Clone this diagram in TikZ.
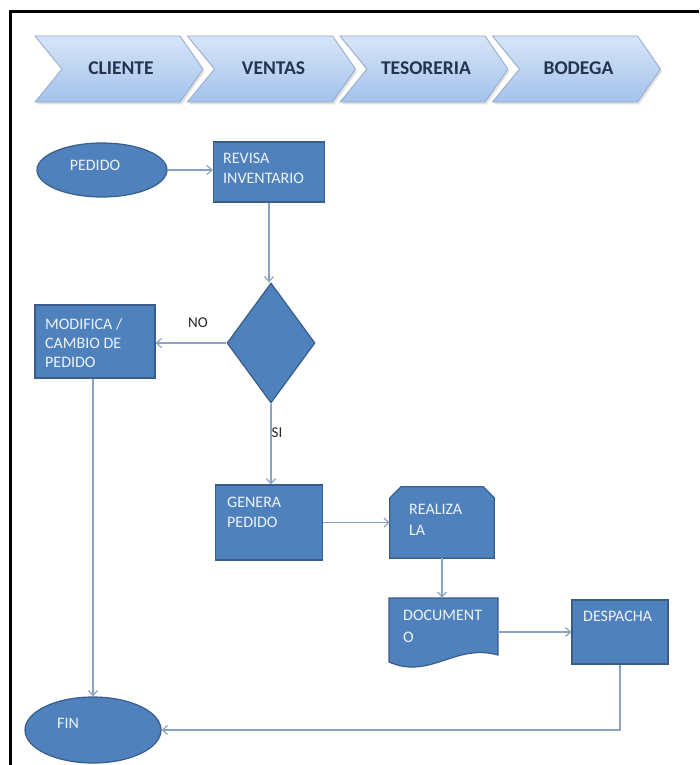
\documentclass[tikz,border=0pt]{standalone}
\usepackage{fontspec}
\setmainfont{Carlito}
\usetikzlibrary{arrows.meta,shapes.geometric,calc}

\definecolor{boxfill}{HTML}{4F81BD}
\definecolor{boxline}{HTML}{385D8A}
\definecolor{boxtext}{HTML}{EEF3FA}
\definecolor{linkcol}{HTML}{8DA3C1}
\definecolor{chevtop}{HTML}{D7E5F8}
\definecolor{chevbot}{HTML}{A3C2EC}
\definecolor{chevline}{HTML}{92A9C9}
\definecolor{chevtext}{HTML}{24344F}

\begin{document}
\begin{tikzpicture}[x=1pt,y=-1pt,
  shapebox/.style={draw=boxline,fill=boxfill,line width=1.2pt,inner sep=0pt},
  ghost/.style={inner sep=0pt},
  boxtxt/.style={text=boxtext,font=\fontsize{16}{20}\selectfont,inner sep=0pt,align=left,anchor=north west},
  onetxt/.style={text=boxtext,font=\fontsize{16}{20}\selectfont,inner sep=0pt},
  link/.style={draw=linkcol,line width=1.2pt,-{Straight Barb[length=5pt,width=9pt]}},
  chev/.style={draw=chevline,line width=0.8pt,top color=chevtop,bottom color=chevbot},
  chevshadow/.style={fill=black!35,opacity=0.35},
  chevtxt/.style={text=chevtext,font=\fontsize{19.5}{22}\selectfont\bfseries,inner sep=0pt},
  answer/.style={text=black!85,font=\fontsize{15}{18}\selectfont,inner sep=0pt}]

\useasboundingbox (0,0) rectangle (699,765);
\fill[white] (0,0) rectangle (699,765);

% frame
\draw[line width=3pt,black] (10,765) -- (10,12) -- (699,12);

% process chevrons, each with a soft shadow underneath
\foreach \i/\nm/\lab in {0/cliente/CLIENTE,1/ventas/VENTAS,2/tesoreria/TESORERIA,3/bodega/BODEGA}{
  \pgfmathsetmacro\L{35+152.5*\i}
  \path[chevshadow] (\L+1.5,38.5) -- (\L+146.5,38.5) -- (\L+169.5,71.5) -- (\L+146.5,104.5)
     -- (\L+1.5,104.5) -- (\L+28.5,71.5) -- cycle;
  \path[chev] (\L,36) -- (\L+145,36) -- (\L+168,69) -- (\L+145,102)
     -- (\L,102) -- (\L+27,69) -- cycle;
  \node[chevtxt] (\nm) at (\L+86,68) {\lab};
}

% flowchart shapes
\node[shapebox,ellipse,minimum width=130pt,minimum height=54pt] (pedido) at (102,170) {};
\node[onetxt] (pedidotxt) at (95,165) {PEDIDO};

\node[shapebox,rectangle,minimum width=111pt,minimum height=60pt] (revisa) at (269,172) {};
\node[boxtxt] (revisatxt) at (223,153) {REVISA\\INVENTARIO};

\node[shapebox,diamond,minimum width=88pt,minimum height=120pt] (decision) at (271,343) {};

\node[shapebox,rectangle,minimum width=120pt,minimum height=73pt] (modifica) at (95,341.5) {};
\node[boxtxt,font=\fontsize{16}{19}\selectfont] (modificatxt) at (45,318) {MODIFICA /\\CAMBIO DE\\PEDIDO};

\node[shapebox,rectangle,minimum width=107pt,minimum height=75pt] (genera) at (269,522.5) {};
\node[boxtxt] (generatxt) at (227,497) {GENERA\\PEDIDO};

% snipped-corner box
\node[ghost,minimum width=104pt,minimum height=71pt] (realiza) at (442,522.5) {};
\draw[shapebox] (realiza.south west) -- ([yshift=-11pt]realiza.north west)
   -- ([xshift=11pt]realiza.north west) -- ([xshift=-11pt]realiza.north east)
   -- ([yshift=-11pt]realiza.north east) -- (realiza.south east) -- cycle;
\node[boxtxt,font=\fontsize{16}{21}\selectfont] (realizatxt) at (409,504) {REALIZA\\LA};

% document shape
\node[ghost,minimum width=109pt,minimum height=57pt] (document) at (443.5,626.5) {};
\draw[shapebox] (389,662) -- (389,598) -- (498,598) -- (498,655)
   .. controls (455,643) and (430,680) .. (389,662) -- cycle;
\node[boxtxt,font=\fontsize{16}{22}\selectfont] (documenttxt) at (403,610) {DOCUMENT\\O};

\node[shapebox,rectangle,minimum width=96pt,minimum height=64pt] (despacha) at (620,632) {};
\node[onetxt,anchor=west] (despachatxt) at (583,616) {DESPACHA};

\node[shapebox,ellipse,minimum width=136pt,minimum height=66pt] (fin) at (93,730) {};
\node[onetxt,anchor=west] (fintxt) at (57,723) {FIN};

% connectors
\draw[link] (pedido.east) -- (pedido.east -| revisa.west);
\draw[link] (revisa.south) -- (revisa.south |- decision.north);
\draw[link] (decision.west) -- (decision.west -| modifica.east);
\draw[link] (decision.south) -- (decision.south |- genera.north);
\draw[link] (modifica.south -| fin.north) -- (fin.north);
\draw[link] (genera.east) -- (genera.east -| realiza.west);
\draw[link] (realiza.south) -- (realiza.south |- document.north);
\draw[link] (despacha.west -| document.east) -- (despacha.west);
\draw[link] (despacha.south) |- (fin.east);

% branch labels
\node[answer] (no) at (198,323) {NO};
\node[answer] (si) at (277,433) {SI};

\end{tikzpicture}
\end{document}
